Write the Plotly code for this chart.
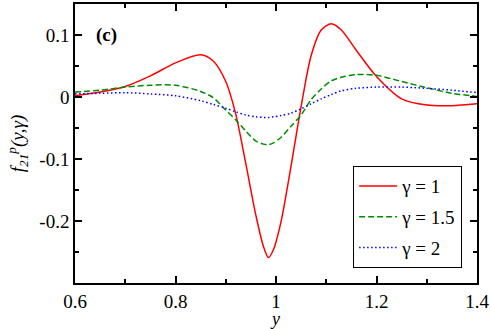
import plotly.graph_objects as go

# y grid shared by the three curves
y_vals = [0.6, 0.65, 0.7, 0.75, 0.8, 0.85, 0.875, 0.9, 0.92, 0.94, 0.96, 0.975, 0.985,
          0.995, 1.01, 1.03, 1.05, 1.07, 1.09, 1.11, 1.13, 1.16, 1.2, 1.25, 1.3, 1.35, 1.4]

f_gamma1 = [0.002, 0.008, 0.017, 0.034, 0.055, 0.068, 0.058, 0.025, -0.028, -0.108, -0.191,
            -0.241, -0.259, -0.246, -0.201, -0.111, -0.015, 0.067, 0.108, 0.118, 0.108,
            0.075, 0.033, -0.003, -0.013, -0.014, -0.011]
f_gamma15 = [0.008, 0.011, 0.016, 0.019, 0.019, 0.009, -0.001, -0.021, -0.037, -0.055, -0.071,
             -0.076, -0.077, -0.074, -0.065, -0.047, -0.029, -0.004, 0.013, 0.026, 0.032,
             0.036, 0.035, 0.025, 0.015, 0.006, 0.001]
f_gamma2 = [0.005, 0.006, 0.007, 0.005, 0.002, -0.006, -0.012, -0.018, -0.024, -0.029, -0.032,
            -0.033, -0.033, -0.032, -0.030, -0.026, -0.019, -0.011, -0.003, 0.004, 0.010,
            0.014, 0.016, 0.016, 0.014, 0.011, 0.007]

names = ['\u03b3 = 1', '\u03b3 = 1.5', '\u03b3 = 2']
x_ticks = [0.6, 0.8, 1.0, 1.2, 1.4]
x_labels = ['0.6', '0.8', '1', '1.2', '1.4']
y_ticks = [-0.2, -0.1, 0.0, 0.1]
y_labels = ['-0.2', '-0.1', '0', '0.1']

SERIF = 'Liberation Serif, Times New Roman, serif'

fig = go.Figure()

styles = [
    dict(color='#ff0000', width=1.5, dash='solid'),
    dict(color='#008c00', width=1.5, dash='6px,3px'),
    dict(color='#0000ff', width=1.5, dash='1.5px,2.5px'),
]

for i, (vals, name) in enumerate(zip([f_gamma1, f_gamma15, f_gamma2], names)):
    fig.add_trace(go.Scatter(
        x=y_vals, y=vals, mode='lines', name=name,
        line=dict(shape='spline', smoothing=0.8, **styles[i]),
        legendgroup=str(i),
    ))

fig.add_annotation(
    x=0.663, y=0.1, xref='x', yref='y', text='<b>(c)</b>', showarrow=False,
    font=dict(family=SERIF, size=19, color='black'),
)

axis_common = dict(
    showgrid=False, zeroline=False, showline=True, linecolor='black', linewidth=1.5,
    mirror='allticks', ticks='inside', ticklen=7, tickwidth=1.5, tickcolor='black',
    tickfont=dict(family=SERIF, size=19, color='black'),
)

fig.update_xaxes(
    range=[0.6, 1.4], tickvals=x_ticks, ticktext=x_labels,
    minor=dict(dtick=0.1, tick0=0.6, ticks='inside', ticklen=4, tickwidth=1.5, tickcolor='black'),
    title=dict(text='<i>y</i>', font=dict(family=SERIF, size=18, color='black'), standoff=3),
    **axis_common,
)
fig.update_yaxes(
    range=[-0.3, 0.15], tickvals=y_ticks, ticktext=y_labels,
    minor=dict(dtick=0.05, tick0=0, ticks='inside', ticklen=4, tickwidth=1.5, tickcolor='black'),
    title=dict(text='<i>f</i><sub><i>21</i></sub><sup><i>p</i></sup><i>(y,\u03b3)</i>',
               font=dict(family=SERIF, size=19, color='black'), standoff=10),
    **axis_common,
)

fig.update_layout(
    width=491, height=329,
    margin=dict(l=75, r=14, t=2, b=46),
    paper_bgcolor='white', plot_bgcolor='white',
    showlegend=True,
    legend=dict(
        x=0.963, y=0.053, xanchor='right', yanchor='bottom',
        bordercolor='black', borderwidth=1, bgcolor='white',
        font=dict(family=SERIF, size=19, color='black'),
        itemwidth=38, tracegroupgap=3,
    ),
)

# drop the default page margin so the figure sits at the window's corner
fig.write_html('out.html', config={'displayModeBar': False},
               post_script="document.body.style.margin='0';")
